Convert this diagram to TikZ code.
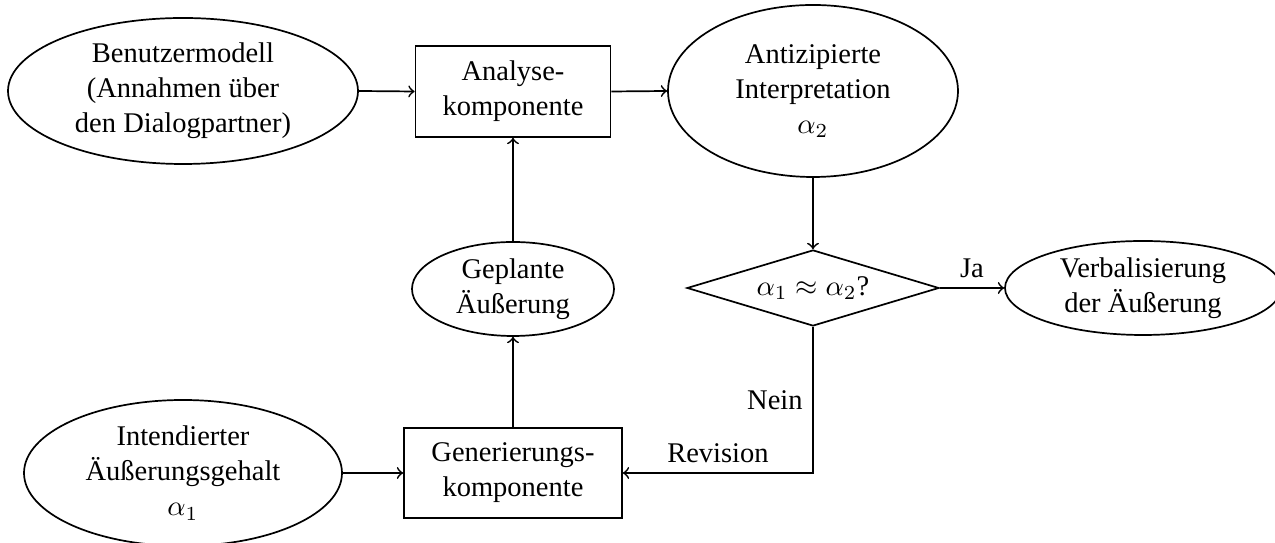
\documentclass[tikz,border=0pt]{standalone}
\usepackage{fontspec}
\setmainfont{Liberation Serif}
\usetikzlibrary{shapes.geometric}
\newdimen\pxu
\pxu=0.35088pt
\begin{document}
\begin{tikzpicture}[x=0.35088pt, y=-0.35088pt,
  every node/.style={font=\fontsize{10}{12.3}\selectfont},
  oval/.style={draw, ellipse, inner sep=0pt, line width=0.6pt},
  box/.style={draw, rectangle, inner sep=0pt, line width=0.6pt, align=center},
  decision/.style={draw, diamond, inner sep=0pt, line width=0.6pt},
  txt/.style={align=center, inner sep=0pt},
  flow/.style={->, line width=0.6pt}]
\useasboundingbox (0,0) rectangle (1275,543);
\clip (0,0) rectangle (1275,543);

% top row
\node[oval, minimum width={350*\pxu}, minimum height={146*\pxu}] (bm) at (183,91) {};
\node[txt] (bmt) at (bm) {Benutzermodell\\(Annahmen über\\den Dialogpartner)};

\node[box, minimum width={195*\pxu}, minimum height={91*\pxu}] (ana) at (513,91.5) {Analyse-\\komponente};

\node[oval, minimum width={290*\pxu}, minimum height={172*\pxu}] (ant) at (813,91) {};
\node[txt] (antt) at (ant) {Antizipierte\\Interpretation\\$\alpha_2$};

% middle row
\node[oval, minimum width={202*\pxu}, minimum height={94*\pxu}] (gep) at (513,289) {};
\node[txt] (gept) at (gep) {Geplante\\Äußerung};

\node[decision, minimum width={252*\pxu}, minimum height={76*\pxu}] (dia) at (813,288) {};
\node[txt] (diat) at (dia) {$\alpha_1 \approx \alpha_2$?};

\node[oval, minimum width={276*\pxu}, minimum height={94*\pxu}] (vb) at (1143,288) {};
\node[txt] (vbt) at (vb) {Verbalisierung\\der Äußerung};

% bottom row
\node[oval, minimum width={318*\pxu}, minimum height={146*\pxu}] (int) at (183,473) {};
\node[txt] (intt) at (int) {Intendierter\\Äußerungsgehalt\\$\alpha_1$};

\node[box, minimum width={218*\pxu}, minimum height={90*\pxu}] (gen) at (513,473) {Generierungs-\\komponente};

% connectors
\draw[flow] (bm.east) -- (ana.west);
\draw[flow] (ana.east) -- (ant.west);
\draw[flow] (ant.south) -- (dia.north);
\draw[flow] (dia.east) -- node[above] (ja) {Ja} (vb.west);
\draw[flow] (dia.south) |- node[pos=0.25, left] (nein) {Nein}
  node[pos=0.75, above] (rev) {Revision} (gen.east);
\draw[flow] (int.east) -- (gen.west);
\draw[flow] (gen.north) -- (gep.south);
\draw[flow] (gep.north) -- (ana.south);
\end{tikzpicture}
\end{document}
